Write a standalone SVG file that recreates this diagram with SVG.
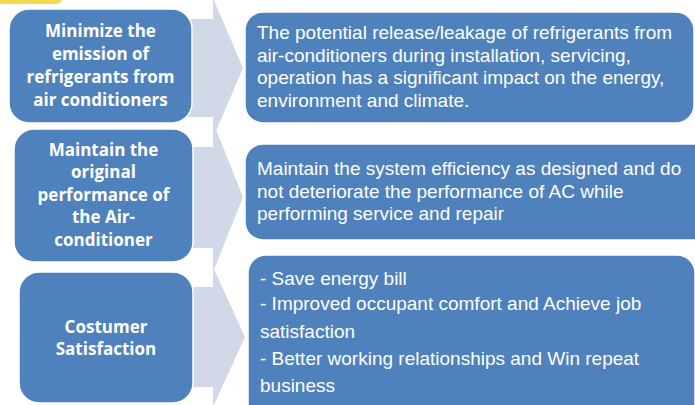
<svg xmlns="http://www.w3.org/2000/svg" width="695" height="405" viewBox="0 0 695 405">
<style>
.box{fill:#4f81bd;stroke:#ffffff;stroke-width:1.5}
.arr{fill:#d1d9e8}
.lt{font-family:"Open Sans","Liberation Sans",sans-serif;font-size:17px;font-weight:bold;fill:#ffffff;text-anchor:middle}
.rt{font-family:"Liberation Sans",Arial,sans-serif;font-size:19px;fill:#ffffff}
</style>
<rect width="695" height="405" fill="#ffffff"/>
<path d="M-10,-20 H62 V-2 Q62,4 56,4 H-10 Z" fill="#f5d84e"/>
<g id="connectors">
<polygon class="arr" points="180,19 213,19 213,-2 243,68 213,138 213,117 180,117"/>
<polygon class="arr" points="180,147 213,147 213,122 243,197 213,272 213,248 180,248"/>
<polygon class="arr" points="180,287 213,287 213,267 245,337 213,407 213,387 180,387"/>
</g>
<g id="n1">
<rect class="box" x="9" y="9" width="183" height="114" rx="20"/>
<text class="lt"><tspan x="100.5" y="37">Minimize the</tspan><tspan x="100.5" y="60">emission of</tspan><tspan x="100.5" y="83">refrigerants from</tspan><tspan x="100.5" y="106">air conditioners</tspan></text>
</g>
<g id="n2">
<rect class="box" x="14" y="129" width="179" height="133" rx="20"/>
<text class="lt"><tspan x="103.5" y="156">Maintain the</tspan><tspan x="103.5" y="178">original</tspan><tspan x="103.5" y="201">performance of</tspan><tspan x="103.5" y="223">the Air-</tspan><tspan x="103.5" y="246">conditioner</tspan></text>
</g>
<g id="n3">
<rect class="box" x="19" y="272" width="174" height="131" rx="20"/>
<text class="lt"><tspan x="106" y="333">Costumer</tspan><tspan x="106" y="355">Satisfaction</tspan></text>
</g>
<g id="r1">
<rect class="box" x="245" y="12" width="449" height="111" rx="18"/>
<text class="rt"><tspan x="257" y="39">The potential release/leakage of refrigerants from</tspan><tspan x="257" y="61.5">air-conditioners during installation, servicing,</tspan><tspan x="257" y="84">operation has a significant impact on the energy,</tspan><tspan x="257" y="106.5">environment and climate.</tspan></text>
</g>
<g id="r2">
<rect class="box" x="245" y="144" width="470" height="96" rx="18"/>
<text class="rt"><tspan x="257" y="175">Maintain the system efficiency as designed and do</tspan><tspan x="257" y="197.5">not deteriorate the performance of AC while</tspan><tspan x="257" y="220">performing service and repair</tspan></text>
</g>
<g id="r3">
<rect class="box" x="248" y="255" width="447" height="170" rx="18"/>
<text class="rt"><tspan x="260" y="285">- Save energy bill</tspan><tspan x="260" y="310">- Improved occupant comfort and Achieve job</tspan><tspan x="260" y="338">satisfaction</tspan><tspan x="260" y="365">- Better working relationships and Win repeat</tspan><tspan x="260" y="392">business</tspan></text>
</g>
</svg>
